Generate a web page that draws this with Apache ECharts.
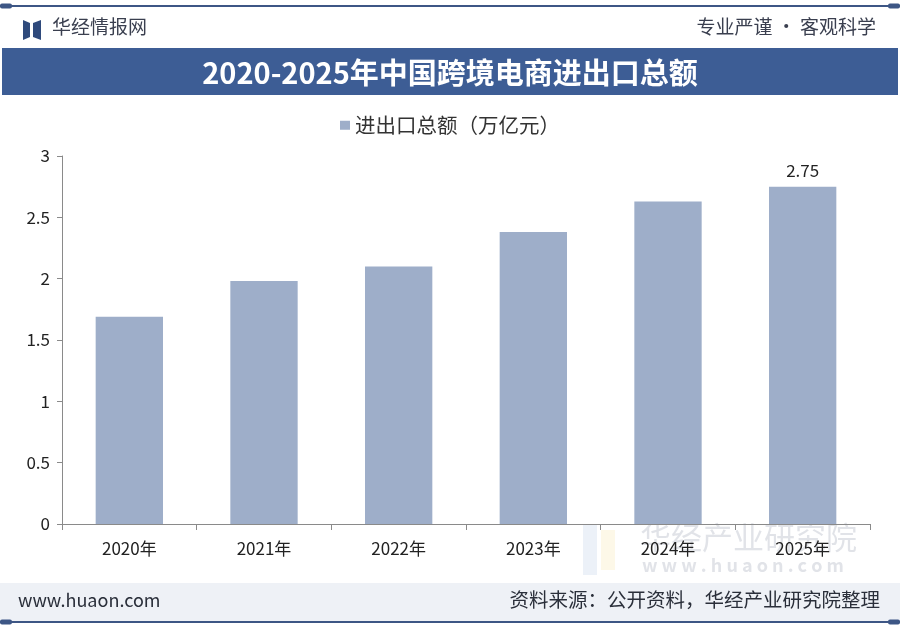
<!DOCTYPE html>
<html>
<head>
<meta charset="utf-8">
<script src="https://cdn.jsdelivr.net/npm/echarts@6/dist/echarts.min.js"></script>
<style>
html,body{margin:0;padding:0;background:#fff;}
#main{width:900px;height:628px;}
</style>
</head>
<body>
<div id="main"></div>
<script>
var categories = ['2020年','2021年','2022年','2023年','2024年','2025年'];
var values = [1.69, 1.98, 2.1, 2.38, 2.63, 2.75];
var yTicks = [0, 0.5, 1, 1.5, 2, 2.5, 3];
var seriesName = '进出口总额（万亿元）';
var titleText = '2020-2025年中国跨境电商进出口总额';
var labelledIndex = [5];

var FONT = '"Noto Sans CJK SC", "Noto Sans", sans-serif';
var BLUE = '#3d5d95';
var BAR = '#9eaec9';

var chart = echarts.init(document.getElementById('main'), null, {renderer: 'canvas'});

var barData = values.map(function (v, i) {
  return labelledIndex.indexOf(i) >= 0
    ? {value: v, label: {show: true}}
    : {value: v};
});

var option = {
  backgroundColor: '#fff',
  animation: false,
  title: {
    text: titleText,
    left: 'center',
    top: 53,
    textStyle: {color: '#fff', fontSize: 29, fontWeight: 'bold', fontFamily: FONT}
  },
  legend: {
    data: [seriesName],
    top: 110,
    left: 'center',
    itemWidth: 10,
    itemHeight: 9,
    itemGap: 5,
    icon: 'rect',
    textStyle: {color: '#333', fontSize: 20.5, fontFamily: FONT}
  },
  grid: {left: 62, right: 30, top: 156, bottom: 104, containLabel: false},
  xAxis: {
    type: 'category',
    data: categories,
    axisLine: {show: true, lineStyle: {color: '#8a8a8a', width: 1}},
    axisTick: {show: true, length: 6, lineStyle: {color: '#8a8a8a'}},
    axisLabel: {color: '#222', fontSize: 17, fontFamily: FONT, margin: 16}
  },
  yAxis: {
    type: 'value',
    min: yTicks[0],
    max: yTicks[yTicks.length - 1],
    interval: yTicks[1] - yTicks[0],
    axisLine: {show: true, lineStyle: {color: '#8a8a8a', width: 1}},
    axisTick: {show: true, length: 5, lineStyle: {color: '#8a8a8a'}},
    axisLabel: {color: '#222', fontSize: 17, fontFamily: FONT, margin: 12},
    splitLine: {show: false}
  },
  series: [{
    name: seriesName,
    type: 'bar',
    data: barData,
    barWidth: '50%',
    itemStyle: {color: BAR},
    label: {show: false, position: 'top', distance: 8, color: '#222', fontSize: 17, fontFamily: FONT}
  }],
  graphic: [
    // top rule
    {type: 'rect', shape: {x: 0, y: 5, width: 900, height: 2}, style: {fill: '#3d5685'}, z: 1},
    {type: 'rect', shape: {x: 0, y: 3.5, width: 12, height: 5, r: 2}, style: {fill: '#3d5685'}, z: 1},
    {type: 'rect', shape: {x: 888, y: 3.5, width: 12, height: 5, r: 2}, style: {fill: '#3d5685'}, z: 1},
    // logo
    {type: 'polygon', shape: {points: [[23, 20], [30, 23], [30, 37], [23, 40]]}, style: {fill: '#2f4a7c'}, z: 1},
    {type: 'polygon', shape: {points: [[41, 20], [33, 23], [33, 37], [41, 40]]}, style: {fill: '#2f4a7c'}, z: 1},
    {type: 'text', left: 52, top: 17, style: {text: '华经情报网', fill: '#3a3f4f', fontSize: 19, fontFamily: FONT}, z: 1},
    {type: 'text', right: 24, top: 17, style: {text: '专业严谨 • 客观科学', fill: '#3a3f4f', fontSize: 19, fontFamily: FONT}, z: 1},
    // banner
    {type: 'rect', shape: {x: 2, y: 48, width: 896, height: 47}, style: {fill: BLUE}, z: -1},
    // watermark
    {type: 'rect', shape: {x: 583, y: 525, width: 14, height: 50}, style: {fill: 'rgba(200,215,235,0.35)'}, z: -1},
    {type: 'rect', shape: {x: 601, y: 530, width: 14, height: 40}, style: {fill: 'rgba(250,235,190,0.35)'}, z: -1},
    {type: 'text', left: 640, top: 522, style: {text: '华经产业研究院', fill: 'rgba(170,176,188,0.35)', fontSize: 31, fontFamily: FONT}, z: -1},
    {type: 'text', left: 642, top: 556, style: {text: 'w w w . h u a o n . c o m', fill: 'rgba(170,176,188,0.35)', fontSize: 18, fontWeight: 'bold', fontFamily: FONT}, z: -1},
    // footer band
    {type: 'rect', shape: {x: 0, y: 583, width: 900, height: 38}, style: {fill: '#eef1f6'}, z: -2},
    {type: 'text', left: 18, top: 591, style: {text: 'www.huaon.com', fill: '#2a2f3a', fontSize: 18, fontFamily: FONT}, z: 1},
    {type: 'text', right: 20, top: 590, style: {text: '资料来源：公开资料，华经产业研究院整理', fill: '#2a2f3a', fontSize: 19.5, fontFamily: FONT}, z: 1},
    // bottom rule
    {type: 'rect', shape: {x: 0, y: 621, width: 900, height: 2}, style: {fill: '#3d5685'}, z: 1},
    {type: 'rect', shape: {x: 0, y: 619.5, width: 12, height: 5, r: 2}, style: {fill: '#3d5685'}, z: 1},
    {type: 'rect', shape: {x: 888, y: 619.5, width: 12, height: 5, r: 2}, style: {fill: '#3d5685'}, z: 1}
  ]
};

chart.setOption(option);
</script>
</body>
</html>
